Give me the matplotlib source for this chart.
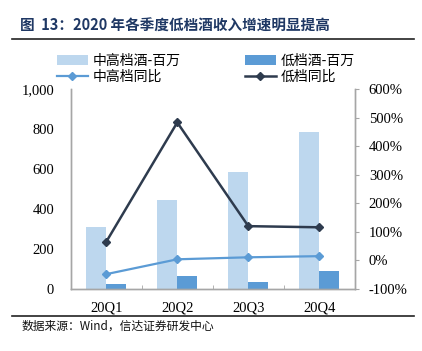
import matplotlib
matplotlib.use("Agg")
import matplotlib.pyplot as plt
from matplotlib.ticker import FuncFormatter, FixedLocator

# data
quarters = ["20Q1", "20Q2", "20Q3", "20Q4"]
high_rev = [310, 445, 587, 787]      # 中高档酒-百万
low_rev = [25, 65, 35, 88]           # 低档酒-百万
high_yoy = [-48, 4, 11, 15]          # 中高档同比 %
low_yoy = [65, 483, 120, 116]        # 低档同比 %

cjk = ["Noto Sans CJK SC", "DejaVu Sans"]
serif = ["Liberation Serif", "DejaVu Serif"]

c_high_bar = "#BDD7EE"
c_low_bar = "#5B9BD5"
c_high_line = "#5B9BD5"
c_low_line = "#2E3B4E"
c_axis = "#A6A6A6"

fig = plt.figure(figsize=(4.22, 3.51), dpi=100)
ax = fig.add_axes([0.1675, 0.1766, 0.6735, 0.5698])
ax2 = ax.twinx()

x = list(range(len(quarters)))
w = 0.28
b1 = ax.bar([i - w / 2 for i in x], high_rev, w, color=c_high_bar, label="中高档酒-百万")
b2 = ax.bar([i + w / 2 for i in x], low_rev, w, color=c_low_bar, label="低档酒-百万")
l1, = ax2.plot(x, high_yoy, color=c_high_line, lw=1.6, marker="D", ms=4, label="中高档同比")
l2, = ax2.plot(x, low_yoy, color=c_low_line, lw=1.8, marker="D", ms=4.5, label="低档同比")

ax.set_xlim(-0.5, 3.5)
ax.set_ylim(0, 1000)
ax.set_yticks(range(0, 1001, 200))
ax.yaxis.set_major_formatter(FuncFormatter(lambda v, p: f"{int(v):,}"))
ax2.set_ylim(-100, 600)
ax2.set_yticks(range(-100, 601, 100))
ax2.yaxis.set_major_formatter(FuncFormatter(lambda v, p: f"{int(v)}%"))

ax.set_xticks(x)
ax.set_xticklabels(quarters)
ax.xaxis.set_minor_locator(FixedLocator([0.5, 1.5, 2.5]))
ax.tick_params(axis="x", which="major", length=0, pad=9)
ax.tick_params(axis="x", which="minor", direction="in", length=3, color=c_axis)
ax.tick_params(axis="y", length=0, pad=12)
ax2.tick_params(axis="y", length=3, color=c_axis, pad=7)

for a in (ax, ax2):
    for lab in a.get_xticklabels() + a.get_yticklabels():
        lab.set_family(serif)
        lab.set_fontsize(10.5)
    a.spines["top"].set_visible(False)
    for s in ("left", "right", "bottom"):
        a.spines[s].set_color(c_axis)
        a.spines[s].set_linewidth(1)

fig.legend([b1, l1, b2, l2], ["中高档酒-百万", "中高档同比", "低档酒-百万", "低档同比"],
           ncol=2, loc="upper left", bbox_to_anchor=(0.135, 0.846), frameon=False,
           prop={"family": cjk, "size": 10}, handlelength=2.2, handletextpad=0.4,
           columnspacing=4.6, labelspacing=0.12, borderpad=0, borderaxespad=0)

fig.text(0.047, 0.928, "图  13：2020 年各季度低档酒收入增速明显提高", family=cjk,
         fontsize=10.5, fontweight="bold", color="#1F3864", va="center")
fig.add_artist(plt.Line2D([0.028, 0.981], [0.889, 0.889], color="#222222", lw=1.2))
fig.add_artist(plt.Line2D([0.028, 0.981], [0.100, 0.100], color="#222222", lw=1.2))
fig.text(0.052, 0.071, "数据来源：Wind，信达证券研发中心", family=cjk, fontsize=8.5,
         style="italic", color="#111111", va="center")

fig.savefig("out.png", dpi=100)
